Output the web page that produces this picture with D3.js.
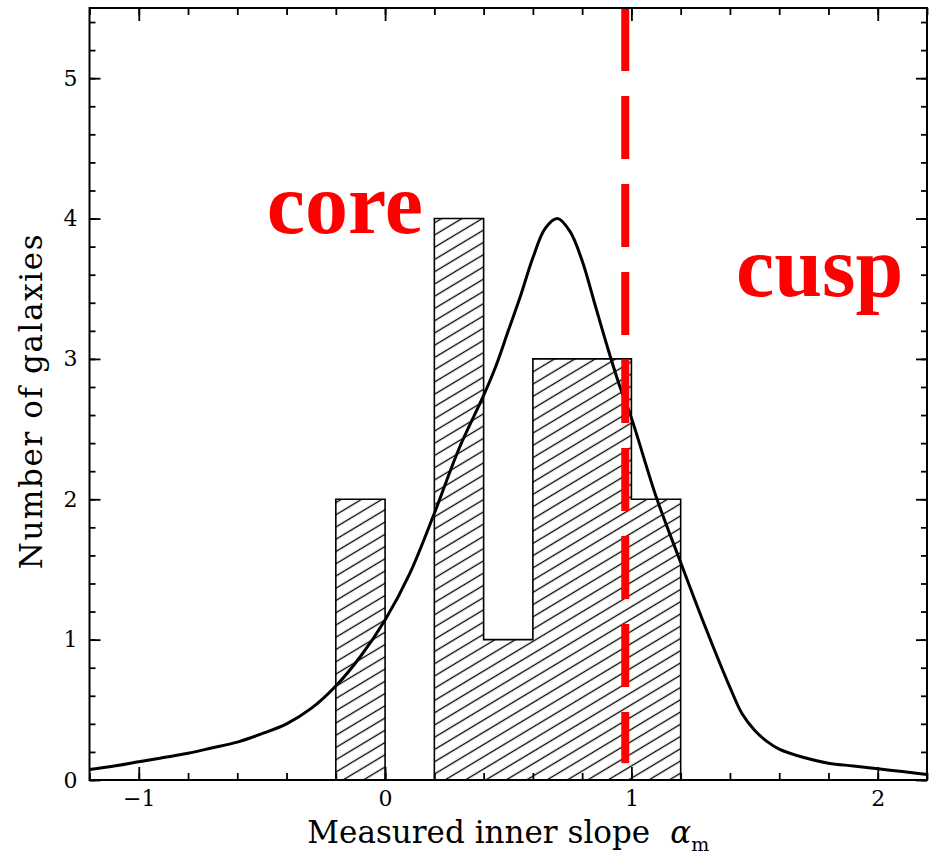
<!DOCTYPE html>
<html>
<head>
<meta charset="utf-8">
<script src="https://cdn.jsdelivr.net/npm/d3@7"></script>
<style>
  html, body { margin: 0; padding: 0; background: #fff; }
  svg { display: block; }
</style>
</head>
<body>
<svg id="chart" width="929" height="854"></svg>
<script>
// Histogram of measured inner slopes (bin edges and galaxy counts per bin)
const binEdges = [-0.2, 0.0, 0.2, 0.4, 0.6, 0.8, 1.0, 1.2];
const binCounts = [2, 0, 4, 1, 3, 3, 2];

// Distribution curve (x = slope, y = number of galaxies)
const curveX = [-1.2, -1.1, -1.0, -0.9, -0.8, -0.7, -0.6, -0.5, -0.4, -0.3, -0.2, -0.1,
                0.0, 0.1, 0.2, 0.3, 0.4, 0.45, 0.5, 0.55, 0.6, 0.65, 0.7, 0.75, 0.8, 0.85,
                0.9, 0.95, 1.0, 1.1, 1.2, 1.3, 1.4, 1.45, 1.5, 1.55, 1.6, 1.7, 1.8, 1.9,
                2.0, 2.1, 2.2];
const curveY = [0.075, 0.10, 0.13, 0.16, 0.19, 0.23, 0.27, 0.33, 0.40, 0.51, 0.67, 0.88,
                1.14, 1.47, 1.90, 2.36, 2.74, 2.95, 3.20, 3.45, 3.72, 3.93, 4.00, 3.91, 3.70, 3.40,
                3.10, 2.82, 2.58, 2.02, 1.55, 1.09, 0.66, 0.47, 0.355, 0.275, 0.22, 0.16, 0.12, 0.10,
                0.08, 0.06, 0.04];

// Core / cusp divide
const divideX = 0.975;
const divideYRange = [0.12, 5.5];

// Axis ticks
const xMajorTicks = [-1, 0, 1, 2];
const xMinorTicks = d3.range(-1.2, 2.21, 0.2).map(v => +v.toFixed(2));
const yMajorTicks = [0, 1, 2, 3, 4, 5];
const yMinorTicks = d3.range(0, 5.41, 0.2).map(v => +v.toFixed(2));

const regionLabels = [
  { text: "core", x: -0.48, y: 3.9 },
  { text: "cusp", x: 1.425, y: 3.45 }
];

const svg = d3.select("#chart");
const plotLeft = 89.5, plotRight = 927, plotTop = 8, plotBottom = 780;

const x = d3.scaleLinear().domain([-1.2, 2.2]).range([plotLeft, plotRight]);
const y = d3.scaleLinear().domain([0, 5.5]).range([plotBottom, plotTop]);

// Diagonal hatch fill
const defs = svg.append("defs");
const pat = defs.append("pattern")
  .attr("id", "hatch")
  .attr("patternUnits", "userSpaceOnUse")
  .attr("width", 20)
  .attr("height", 10.5)
  .attr("patternTransform", "rotate(-31)");
pat.append("line")
  .attr("x1", -1).attr("x2", 21)
  .attr("y1", 5.25).attr("y2", 5.25)
  .attr("stroke", "#000").attr("stroke-width", 1.3);

defs.append("clipPath").attr("id", "plotClip")
  .append("rect").attr("x", plotLeft).attr("y", plotTop)
  .attr("width", plotRight - plotLeft).attr("height", plotBottom - plotTop);

// Histogram as a stepped outline
const stepPts = [[binEdges[0], 0]]
  .concat(binCounts.map((c, i) => [binEdges[i], c]))
  .concat([[binEdges[binEdges.length - 1], 0]]);

const area = d3.area()
  .x(d => x(d[0])).y0(y(0)).y1(d => y(d[1]))
  .curve(d3.curveStepAfter);
const line = d3.line()
  .x(d => x(d[0])).y(d => y(d[1]))
  .curve(d3.curveStepAfter);

svg.append("path").datum(stepPts)
  .attr("d", area).attr("fill", "url(#hatch)").attr("stroke", "none");
svg.append("path").datum(stepPts)
  .attr("d", line).attr("fill", "none")
  .attr("stroke", "#000").attr("stroke-width", 1.6);

// Distribution curve
const curvePts = curveX.map((v, i) => [v, curveY[i]]);
svg.append("path").datum(curvePts)
  .attr("clip-path", "url(#plotClip)")
  .attr("d", d3.line().x(d => x(d[0])).y(d => y(d[1])).curve(d3.curveCatmullRom.alpha(0.5)))
  .attr("fill", "none").attr("stroke", "#000").attr("stroke-width", 3)
  .attr("stroke-linejoin", "round");

// Dashed divide line
svg.append("line")
  .attr("x1", x(divideX)).attr("x2", x(divideX))
  .attr("y1", y(divideYRange[1])).attr("y2", y(divideYRange[0]))
  .attr("stroke", "#ff0000").attr("stroke-width", 8)
  .attr("stroke-dasharray", "63 25");

// Axes with inward ticks on all four sides
const tickFont = "DejaVu Serif, serif";
function styleAxis(g) {
  g.select(".domain").remove();
  g.selectAll(".tick line").attr("stroke", "#000").attr("stroke-width", 1.8);
  g.selectAll(".tick text").attr("font-family", tickFont).attr("font-size", 22).attr("fill", "#000");
}
// bottom
svg.append("g").attr("transform", `translate(0,${plotBottom})`)
  .call(d3.axisBottom(x).tickValues(xMinorTicks).tickSize(-7).tickFormat(""))
  .call(styleAxis);
svg.append("g").attr("transform", `translate(0,${plotBottom})`)
  .call(d3.axisBottom(x).tickValues(xMajorTicks).tickSize(-13).tickPadding(10).tickFormat(d3.format("d")))
  .call(styleAxis);
// top
svg.append("g").attr("transform", `translate(0,${plotTop})`)
  .call(d3.axisTop(x).tickValues(xMinorTicks).tickSize(-7).tickFormat(""))
  .call(styleAxis);
svg.append("g").attr("transform", `translate(0,${plotTop})`)
  .call(d3.axisTop(x).tickValues(xMajorTicks).tickSize(-13).tickFormat(""))
  .call(styleAxis);
// left
svg.append("g").attr("transform", `translate(${plotLeft},0)`)
  .call(d3.axisLeft(y).tickValues(yMinorTicks).tickSize(-6).tickFormat(""))
  .call(styleAxis);
svg.append("g").attr("transform", `translate(${plotLeft},0)`)
  .call(d3.axisLeft(y).tickValues(yMajorTicks).tickSize(-11).tickPadding(12).tickFormat(d3.format("d")))
  .call(styleAxis);
// right
svg.append("g").attr("transform", `translate(${plotRight},0)`)
  .call(d3.axisRight(y).tickValues(yMinorTicks).tickSize(-6).tickFormat(""))
  .call(styleAxis);
svg.append("g").attr("transform", `translate(${plotRight},0)`)
  .call(d3.axisRight(y).tickValues(yMajorTicks).tickSize(-11).tickFormat(""))
  .call(styleAxis);

// Frame
svg.append("rect")
  .attr("x", plotLeft).attr("y", plotTop)
  .attr("width", plotRight - plotLeft).attr("height", plotBottom - plotTop)
  .attr("fill", "none").attr("stroke", "#000").attr("stroke-width", 2);

// Axis titles
const xt = svg.append("text")
  .attr("x", (plotLeft + plotRight) / 2).attr("y", 843)
  .attr("text-anchor", "middle")
  .attr("font-family", tickFont).attr("font-size", 31).attr("fill", "#000");
xt.append("tspan").text("Measured inner slope");
xt.append("tspan").attr("dx", 20).attr("font-style", "italic").text("α");
xt.append("tspan").attr("font-size", 19).attr("dy", 8).text("m");

svg.append("text")
  .attr("transform", `translate(42,${(plotTop + plotBottom) / 2 + 7}) rotate(-90)`)
  .attr("text-anchor", "middle")
  .attr("font-family", tickFont).attr("font-size", 31).attr("letter-spacing", 1.6)
  .attr("fill", "#000")
  .text("Number of galaxies");

// Region labels
svg.selectAll(".region").data(regionLabels).enter().append("text")
  .attr("class", "region")
  .attr("x", d => x(d.x)).attr("y", d => y(d.y))
  .attr("font-family", "Liberation Serif, Times New Roman, serif")
  .attr("font-weight", "bold").attr("font-size", 86)
  .attr("fill", "#ff0000")
  .text(d => d.text);
</script>
</body>
</html>
